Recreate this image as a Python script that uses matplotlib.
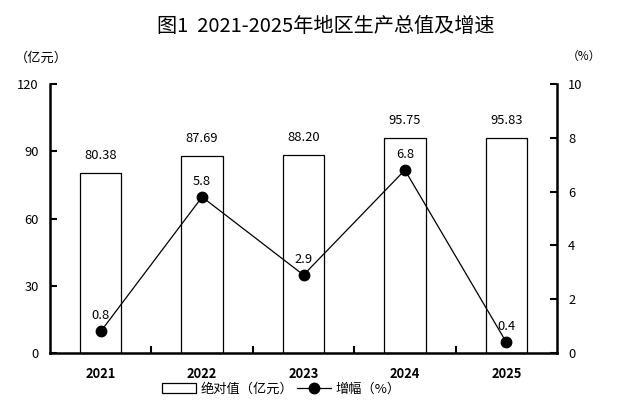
import numpy as np
import matplotlib.pyplot as plt

plt.rcParams['font.family'] = ['Noto Sans CJK SC', 'DejaVu Sans']

years = ['2021', '2022', '2023', '2024', '2025']
gdp = [80.38, 87.69, 88.20, 95.75, 95.83]
growth = [0.8, 5.8, 2.9, 6.8, 0.4]

fig = plt.figure(figsize=(6.34, 4.16), dpi=100)
ax = fig.add_axes([50 / 634, 63 / 416, 507 / 634, 269 / 416])
x = np.arange(len(years))

bars = ax.bar(x, gdp, width=0.41, color='white', edgecolor='black', linewidth=0.9,
              label='绝对值（亿元）', zorder=2)
for xi, v in zip(x, gdp):
    ax.text(xi, v + 5, f'{v:.2f}', ha='center', va='bottom', fontsize=9.3)

ax.set_xlim(-0.5, len(years) - 0.5)
ax.set_ylim(0, 120)
ax.set_yticks([0, 30, 60, 90, 120])
ax.set_xticks(x)
ax.set_xticklabels(years, fontsize=9.3, fontweight='bold')
ax.set_xticks(np.arange(0.5, len(years) - 0.5, 1), minor=True)
ax.tick_params(axis='x', which='major', length=0, pad=10)
ax.tick_params(axis='x', which='minor', direction='in', length=5, width=1.5)
ax.tick_params(axis='y', direction='in', length=5, width=1.5, labelsize=9.3, pad=8)
for s in ['left', 'bottom']:
    ax.spines[s].set_linewidth(1.8)
ax.spines['top'].set_visible(False)
ax.spines['right'].set_visible(False)

ax2 = ax.twinx()
line, = ax2.plot(x, growth, color='black', linewidth=0.9, marker='o', markersize=7.5,
                 label='增幅（%）', zorder=3)
for xi, v in zip(x, growth):
    ax2.text(xi, v + 0.35, f'{v:.1f}', ha='center', va='bottom', fontsize=9.3)
ax2.set_ylim(0, 10)
ax2.set_yticks([0, 2, 4, 6, 8, 10])
ax2.tick_params(axis='y', direction='in', length=5, width=1.5, labelsize=9.3, pad=8)
ax2.spines['right'].set_linewidth(1.8)
ax2.spines['top'].set_visible(False)
ax2.spines['left'].set_visible(False)
ax2.spines['bottom'].set_visible(False)

fig.suptitle('图1  2021-2025年地区生产总值及增速', x=326 / 634, y=1 - 27 / 416,
             va='center', fontsize=14.5)
fig.text(15 / 634, 1 - 58 / 416, '（亿元）', fontsize=9.5, va='center')
fig.text(567 / 634, 1 - 56 / 416, '（%）', fontsize=8.5, va='center')

fig.legend([bars, line], ['绝对值（亿元）', '增幅（%）'], loc='center',
           bbox_to_anchor=(281 / 634, 1 - 389 / 416), ncol=2, frameon=False,
           fontsize=9.5, handlelength=2.6, columnspacing=0.3, handletextpad=0.3,
           borderpad=0)

fig.savefig('out.png', dpi=100)
